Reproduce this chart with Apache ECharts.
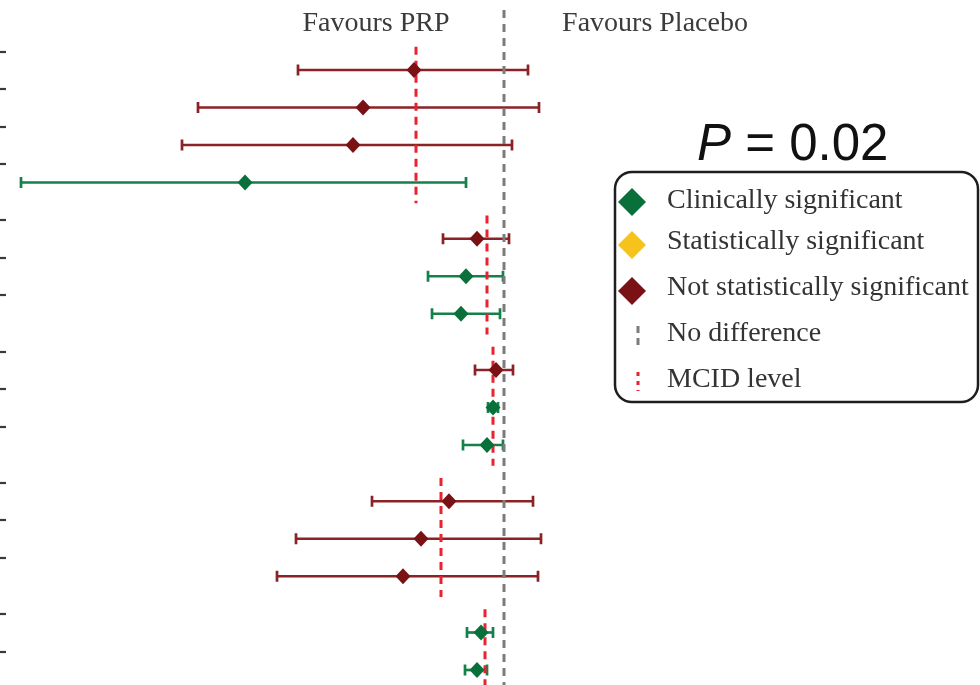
<!DOCTYPE html>
<html>
<head>
<meta charset="utf-8">
<script src="https://cdn.jsdelivr.net/npm/echarts@6/dist/echarts.min.js"></script>
<style>
  html, body { margin: 0; padding: 0; background: #ffffff; }
  #chart { width: 980px; height: 685px; }
</style>
</head>
<body>
<div id="chart"></div>
<script>
// Forest plot: PRP vs placebo, mean differences with 95% CI, grouped by outcome.
const groupSizes = [4, 3, 3, 3, 2];
const estimate = [-9.0, -14.1, -15.1, -25.9, -2.7, -3.8, -4.3, -0.8, -1.1, -1.7, -5.5, -8.3, -10.1, -2.3, -2.7];
const lower    = [-20.6, -30.6, -32.2, -48.3, -6.1, -7.6, -7.2, -2.9, -1.6, -4.1, -13.2, -20.8, -22.7, -3.7, -3.9];
const upper    = [2.4, 3.5, 0.8, -3.8, 0.5, -0.1, -0.4, 0.9, -0.6, -0.1, 2.9, 3.7, 3.4, -1.1, -1.7];
const significance = ['ns', 'ns', 'ns', 'clinical', 'ns', 'clinical', 'clinical', 'ns',
                      'clinical', 'clinical', 'ns', 'ns', 'ns', 'clinical', 'clinical'];
const mcid = [-8.8, -1.7, -1.1, -6.3, -1.9];
const sideLabels = ['Favours PRP', 'Favours Placebo'];
const legendLabels = ['Clinically significant', 'Statistically significant',
                      'Not statistically significant', 'No difference', 'MCID level'];
const pValue = '0.02';

const markerColor = { clinical: '#0a703b', statistical: '#f6c21c', ns: '#7a1215' };
const barColor    = { clinical: '#16804a', statistical: '#f6c21c', ns: '#8a2226' };

// Row positions: one unit per study, an extra half unit between outcome groups.
const rowPos = [];
const groupSpan = [];
let p = 0;
groupSizes.forEach((n) => {
  const first = p;
  for (let i = 0; i < n; i++) { rowPos.push(p); p += 1; }
  groupSpan.push([first, p - 1]);
  p += 0.5;
});

const ciData = estimate.map((e, i) => [e, rowPos[i], lower[i], upper[i], i]);
const pointData = estimate.map((e, i) => [e, rowPos[i], i]);
const mcidData = mcid.map((m, g) => [m, groupSpan[g][0] - 0.62, groupSpan[g][1] + 0.55]);

const chart = echarts.init(document.getElementById('chart'), null, { renderer: 'canvas' });

const serif = 'Liberation Serif, Times New Roman, serif';

const option = {
  animation: false,
  backgroundColor: '#ffffff',
  grid: { left: 6, right: 0, top: 0, bottom: 0, containLabel: false },
  xAxis: {
    type: 'value', min: -49.8, max: 47.6,
    show: false, splitLine: { show: false }
  },
  yAxis: {
    type: 'value', inverse: true, min: -1.8667, max: 16.4,
    position: 'left',
    axisLine: { show: false, onZero: false },
    axisLabel: { show: false },
    splitLine: { show: false },
    axisTick: {
      show: true, inside: false, length: 6,
      customValues: rowPos.map(v => v - 0.5),
      lineStyle: { color: '#3a3a3a', width: 2.2 }
    }
  },
  series: [
    {
      // 95% confidence intervals with end caps
      type: 'custom', z: 2, silent: true,
      data: ciData,
      encode: { x: [2, 3], y: 1 },
      renderItem(params, api) {
        const y = api.coord([0, api.value(1)])[1];
        const x1 = api.coord([api.value(2), 0])[0];
        const x2 = api.coord([api.value(3), 0])[0];
        const c = barColor[significance[api.value(4)]];
        const h = 5.5;
        const st = { stroke: c, lineWidth: 2.7 };
        return {
          type: 'group',
          children: [
            { type: 'line', shape: { x1: x1, y1: y, x2: x2, y2: y }, style: st },
            { type: 'line', shape: { x1: x1, y1: y - h, x2: x1, y2: y + h }, style: st },
            { type: 'line', shape: { x1: x2, y1: y - h, x2: x2, y2: y + h }, style: st }
          ]
        };
      }
    },
    {
      // line of no difference
      type: 'line', z: 3, silent: true, symbol: 'none',
      data: [[0, -1.6], [0, 16.4]],
      lineStyle: { color: '#7c7c7c', width: 3, type: [8, 6] }
    },
    {
      // MCID threshold per outcome group
      type: 'custom', z: 4, silent: true,
      data: mcidData,
      encode: { x: 0, y: [1, 2] },
      renderItem(params, api) {
        const a = api.coord([api.value(0), api.value(1)]);
        const b = api.coord([api.value(0), api.value(2)]);
        return {
          type: 'line',
          shape: { x1: a[0], y1: a[1], x2: b[0], y2: b[1] },
          style: { stroke: '#e8232f', lineWidth: 3, lineDash: [8, 6] }
        };
      }
    },
    {
      // point estimates
      type: 'scatter', z: 5, silent: true,
      data: pointData,
      symbol: 'diamond', symbolSize: [15, 16],
      itemStyle: {
        opacity: 1,
        color: (params) => markerColor[significance[params.value[2]]]
      }
    }
  ],
  graphic: [
    { type: 'text', x: 376, y: 24,
      style: { text: sideLabels[0], font: '28px ' + serif, fill: '#3b3b3b', align: 'center', verticalAlign: 'middle' } },
    { type: 'text', x: 655, y: 24,
      style: { text: sideLabels[1], font: '28px ' + serif, fill: '#3b3b3b', align: 'center', verticalAlign: 'middle' } },
    { type: 'text', x: 697, y: 146,
      style: {
        text: '{i|P} = ' + pValue,
        font: '51px Liberation Sans, Arial, sans-serif', fill: '#111111',
        align: 'left', verticalAlign: 'middle',
        rich: { i: { fontStyle: 'italic', font: 'italic 51px Liberation Sans, Arial, sans-serif', fill: '#111111' } }
      } },
    { type: 'rect', shape: { x: 615, y: 172, width: 363, height: 230, r: 17 },
      style: { fill: 'none', stroke: '#1e1e1e', lineWidth: 2.5 } },
    { type: 'polygon', shape: { points: [[632, 188], [646, 202], [632, 216], [618, 202]] },
      style: { fill: markerColor.clinical } },
    { type: 'polygon', shape: { points: [[632, 231], [646, 245], [632, 259], [618, 245]] },
      style: { fill: markerColor.statistical } },
    { type: 'polygon', shape: { points: [[632, 277], [646, 291], [632, 305], [618, 291]] },
      style: { fill: markerColor.ns } },
    { type: 'line', shape: { x1: 638, y1: 326, x2: 638, y2: 349 },
      style: { stroke: '#7c7c7c', lineWidth: 3, lineDash: [7, 5] } },
    { type: 'line', shape: { x1: 638, y1: 372, x2: 638, y2: 391 },
      style: { stroke: '#e8232f', lineWidth: 3, lineDash: [4, 5] } },
    ...legendLabels.map((t, i) => ({
      type: 'text', x: 667, y: [201, 242, 288, 334, 380][i],
      style: { text: t, font: '28px ' + serif, fill: '#333333', align: 'left', verticalAlign: 'middle' }
    }))
  ]
};

chart.setOption(option);
</script>
</body>
</html>
